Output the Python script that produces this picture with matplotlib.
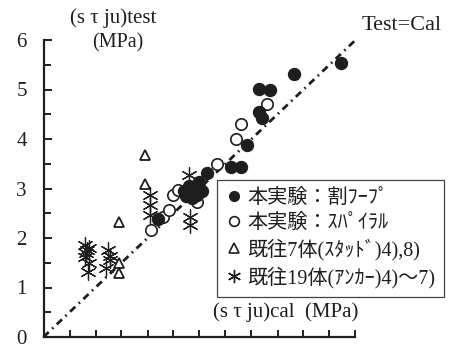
import matplotlib
matplotlib.use("Agg")
import matplotlib.pyplot as plt
from matplotlib.lines import Line2D
from matplotlib.ticker import NullFormatter

# 本実験：割フープ (filled circles)
hoop_x = [5.72, 4.81, 4.14, 4.36, 4.14, 4.21, 3.92, 3.61, 3.79, 3.14, 3.00,
          2.95, 2.80, 2.70, 2.85, 3.05, 2.75, 2.95, 2.20]
hoop_y = [5.53, 5.31, 5.02, 4.98, 4.55, 4.42, 3.88, 3.43, 3.43, 3.31, 3.14,
          3.08, 3.05, 2.95, 2.80, 2.95, 2.85, 2.86, 2.38]

# 本実験：スパイラル (open circles)
spiral_x = [4.29, 3.80, 3.71, 3.33, 2.07, 2.30, 2.42, 2.50, 2.59, 2.95]
spiral_y = [4.71, 4.30, 4.01, 3.50, 2.16, 2.43, 2.57, 2.87, 2.97, 2.73]

# 既往7体 (スタッド) (open triangles)
stud_x = [1.96, 1.96, 1.46, 1.46, 1.46]
stud_y = [3.68, 3.09, 2.32, 1.49, 1.29]

# 既往19体 (アンカー) (asterisks)
anchor_x = [0.79, 0.88, 0.84, 0.82, 0.80, 0.88, 0.85,
            1.24, 1.28, 1.27, 1.21,
            2.04, 2.04, 2.04,
            2.80, 2.82, 2.82]
anchor_y = [1.86, 1.80, 1.75, 1.69, 1.62, 1.49, 1.32,
            1.76, 1.64, 1.56, 1.39,
            2.86, 2.66, 2.47,
            3.27, 2.42, 2.27]

diag = [0, 6]

labels = ["本実験：割ﾌｰﾌﾟ", "本実験：ｽﾊﾟｲﾗﾙ",
          "既往7体(ｽﾀｯﾄﾞ)4),8)", "既往19体(ｱﾝｶｰ)4)～7)"]

ink = "#1e1e1e"
serif = ["Liberation Serif", "Noto Sans CJK JP"]

fig = plt.figure(figsize=(4.56, 3.48), dpi=100)
W, H = 456, 348
x0, y0 = 43.5, 337          # pixel position of the origin
sx, sy = 52.0, 49.5         # pixels per MPa
ax = fig.add_axes([x0 / W, (H - y0) / H, (W - x0) / W, y0 / H])
ax.set_xlim(0, (W - x0) / sx)
ax.set_ylim(0, y0 / sy)
ax.patch.set_alpha(0)

ax.plot(diag, diag, color=ink, lw=2.0, linestyle=(0, (2.6, 1.7, 0.6, 1.7)), zorder=1)

ax.plot(anchor_x, anchor_y, ls="none", marker=(6, 2, 0), ms=11.5, mew=0.9,
        mec=ink, zorder=2)
ax.plot(stud_x, stud_y, ls="none", marker="^", ms=7.5, mfc="white", mew=1.3,
        mec=ink, zorder=3)
ax.plot(spiral_x, spiral_y, ls="none", marker="o", ms=8.2, mfc="white", mew=1.2,
        mec=ink, zorder=3)
ax.plot(hoop_x, hoop_y, ls="none", marker="o", ms=8.6, mfc=ink, mec=ink, zorder=4)

for s in ["top", "right"]:
    ax.spines[s].set_visible(False)
for s in ["left", "bottom"]:
    ax.spines[s].set_linewidth(1.6)
    ax.spines[s].set_color(ink)
    ax.spines[s].set_bounds(0, 6)

ax.set_xticks([t * 0.5 for t in range(1, 13)])
ax.xaxis.set_major_formatter(NullFormatter())
ax.set_yticks(range(0, 7))
ax.set_yticks([t + 0.5 for t in range(0, 6)], minor=True)
ax.tick_params(axis="both", which="both", direction="in", width=1.4, color=ink)
ax.tick_params(axis="y", which="major", length=6, pad=12, labelsize=15,
               labelcolor=ink)
ax.tick_params(axis="y", which="minor", length=5)
ax.tick_params(axis="x", which="major", length=5)
for lab in ax.get_yticklabels():
    lab.set_family("Liberation Serif")

ax.text(1.34, 6.44, "(s τ ju)test", ha="center", va="center", fontsize=15,
        family=serif, color=ink)
ax.text(1.43, 5.94, "(MPa)", ha="center", va="center", fontsize=14.5,
        family=serif, color=ink)
ax.text(6.05, 0.50, "(s τ ju)cal  (MPa)", ha="right", va="center", fontsize=15,
        family=serif, color=ink)
ax.text(6.11, 6.30, "Test=Cal", ha="left", va="center", fontsize=16,
        family=serif, color=ink)

handles = [
    Line2D([], [], ls="none", marker="o", ms=7, mfc=ink, mec=ink),
    Line2D([], [], ls="none", marker="o", ms=7, mfc="white", mec=ink, mew=1.2),
    Line2D([], [], ls="none", marker="^", ms=7, mfc="white", mec=ink, mew=1.2),
    Line2D([], [], ls="none", marker=(6, 2, 0), ms=9.5, mec=ink, mew=1.0),
]
leg = ax.legend(handles, labels, loc="upper left",
                bbox_to_anchor=(217 / W, 1 - 180 / H), bbox_transform=fig.transFigure,
                borderaxespad=0, fancybox=False, framealpha=1, edgecolor="#444444",
                prop={"family": serif, "size": 14.5}, handlelength=0.8,
                handletextpad=0.3, labelspacing=0.3, borderpad=0.42)
leg.get_frame().set_linewidth(0.9)
for t in leg.get_texts():
    t.set_color(ink)

fig.savefig("out.png", dpi=100)
